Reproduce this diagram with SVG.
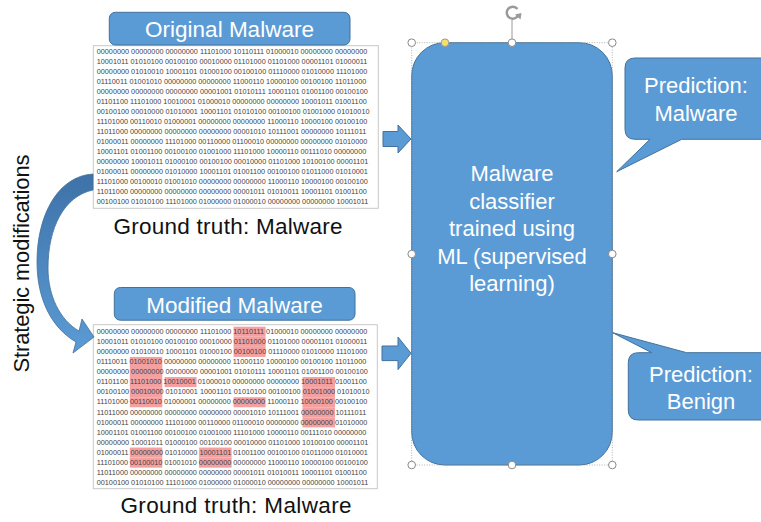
<svg xmlns="http://www.w3.org/2000/svg" width="761" height="522" viewBox="0 0 761 522">
<defs>
<style>
.blue{fill:#5b9bd5;stroke:#41719c;stroke-width:1}
.wt{fill:#ffffff;font-family:"Liberation Sans",Arial,sans-serif}
.lbl{fill:#111111;font-family:"Liberation Sans",Arial,sans-serif}
.bin{fill:#444444;font-family:"Liberation Sans",Arial,sans-serif;font-size:7.29px}
.blk{fill:#ffffff;stroke:#c9c9c9;stroke-width:1}
.hl{fill:#f4a0a0}
.hd{fill:#ffffff;stroke:#8a8a8a;stroke-width:1}
</style>
<linearGradient id="cg" x1="0" y1="0" x2="0" y2="1">
<stop offset="0" stop-color="#3e72a8"/>
<stop offset="1" stop-color="#5b9bd5"/>
</linearGradient>
</defs>
<rect width="761" height="522" fill="#ffffff"/>

<g id="node-original">
<rect class="blk" x="93.3" y="45.7" width="285" height="162.6"/>
<g class="bin">
<text x="96.7" y="54">00000000 00000000 00000000 11101000 10110111 01000010 00000000 00000000</text>
<text x="96.7" y="64">10001011 01010100 00100100 00010000 01101000 01101000 00001101 01000011</text>
<text x="96.7" y="74">00000000 01010010 10001101 01000100 00100100 01110000 01010000 11101000</text>
<text x="96.7" y="84">01110011 01001010 00000000 00000000 11000110 10000100 00100100 11011000</text>
<text x="96.7" y="94">00000000 00000000 00000000 00001001 01010111 10001101 01001100 00100100</text>
<text x="96.7" y="104">01101100 11101000 10010001 01000010 00000000 00000000 10001011 01001100</text>
<text x="96.7" y="114">00100100 00010000 01010001 10001101 01010100 00100100 01001000 01010010</text>
<text x="96.7" y="124">11101000 00110010 01000001 00000000 00000000 11000110 10000100 00100100</text>
<text x="96.7" y="134">11011000 00000000 00000000 00000000 00001010 10111001 00000000 10111011</text>
<text x="96.7" y="144">01000011 00000000 11101000 00110000 01100010 00000000 00000000 01010000</text>
<text x="96.7" y="154">10001101 01001100 00100100 01001000 11101000 10000110 00111010 00000000</text>
<text x="96.7" y="164">00000000 10001011 01000100 00100100 00010000 01101000 10100100 00001101</text>
<text x="96.7" y="174">01000011 00000000 01010000 10001101 01001100 00100100 01011000 01010001</text>
<text x="96.7" y="184">11101000 00100010 01001010 00000000 00000000 11000110 10000100 00100100</text>
<text x="96.7" y="194">11011000 00000000 00000000 00000000 00001011 01010011 10001101 01001100</text>
<text x="96.7" y="204">00100100 01010100 11101000 01000000 01000010 00000000 00000000 10001011</text>
</g>
<rect class="blue" x="109.3" y="12.3" width="240.7" height="32.7" rx="6"/>
<text class="wt" x="229.5" y="37.3" font-size="22.5" text-anchor="middle">Original Malware</text>
<text class="lbl" x="228" y="234" font-size="22.5" text-anchor="middle" textLength="229">Ground truth: Malware</text>
</g>

<g id="node-modified">
<rect class="blk" x="93.3" y="324.7" width="284" height="164"/>
<g class="hl">
<rect x="233.6" y="326.7" width="32" height="10.07"/>
<rect x="233.6" y="336.77" width="32" height="10.07"/>
<rect x="233.6" y="346.84" width="32" height="10.07"/>
<rect x="129.8" y="356.91" width="32.5" height="10.07"/>
<rect x="129.8" y="366.98" width="32.5" height="10.07"/>
<rect x="129.8" y="377.05" width="32.5" height="10.07"/>
<rect x="164.6" y="377.05" width="32" height="10.07"/>
<rect x="302.5" y="377.05" width="32.5" height="10.07"/>
<rect x="129.8" y="387.12" width="32.5" height="10.07"/>
<rect x="302.5" y="387.12" width="32.5" height="10.07"/>
<rect x="129.8" y="397.19" width="32.5" height="10.07"/>
<rect x="233.6" y="397.19" width="32" height="10.07"/>
<rect x="302.5" y="397.19" width="32.5" height="10.07"/>
<rect x="302.5" y="407.26" width="32.5" height="10.07"/>
<rect x="302.5" y="417.33" width="32.5" height="10.07"/>
<rect x="129.8" y="447.54" width="32.5" height="10.07"/>
<rect x="199.1" y="447.54" width="32.5" height="10.07"/>
<rect x="129.8" y="457.61" width="32.5" height="10.07"/>
<rect x="199.1" y="457.61" width="32.5" height="10.07"/>
</g>
<g class="bin">
<text x="96.7" y="334">00000000 00000000 00000000 11101000 10110111 01000010 00000000 00000000</text>
<text x="96.7" y="344.07">10001011 01010100 00100100 00010000 01101000 01101000 00001101 01000011</text>
<text x="96.7" y="354.14">00000000 01010010 10001101 01000100 00100100 01110000 01010000 11101000</text>
<text x="96.7" y="364.21">01110011 01001010 00000000 00000000 11000110 10000100 00100100 11011000</text>
<text x="96.7" y="374.28">00000000 00000000 00000000 00001001 01010111 10001101 01001100 00100100</text>
<text x="96.7" y="384.35">01101100 11101000 10010001 01000010 00000000 00000000 10001011 01001100</text>
<text x="96.7" y="394.42">00100100 00010000 01010001 10001101 01010100 00100100 01001000 01010010</text>
<text x="96.7" y="404.49">11101000 00110010 01000001 00000000 00000000 11000110 10000100 00100100</text>
<text x="96.7" y="414.56">11011000 00000000 00000000 00000000 00001010 10111001 00000000 10111011</text>
<text x="96.7" y="424.63">01000011 00000000 11101000 00110000 01100010 00000000 00000000 01010000</text>
<text x="96.7" y="434.7">10001101 01001100 00100100 01001000 11101000 10000110 00111010 00000000</text>
<text x="96.7" y="444.77">00000000 10001011 01000100 00100100 00010000 01101000 10100100 00001101</text>
<text x="96.7" y="454.84">01000011 00000000 01010000 10001101 01001100 00100100 01011000 01010001</text>
<text x="96.7" y="464.91">11101000 00100010 01001010 00000000 00000000 11000110 10000100 00100100</text>
<text x="96.7" y="474.98">11011000 00000000 00000000 00000000 00001011 01010011 10001101 01001100</text>
<text x="96.7" y="485.05">00100100 01010100 11101000 01000000 01000010 00000000 00000000 10001011</text>
</g>
<rect class="blue" x="114.3" y="287.5" width="240.7" height="32.7" rx="6"/>
<text class="wt" x="234.5" y="312.5" font-size="22.5" text-anchor="middle">Modified Malware</text>
<text class="lbl" x="236" y="513" font-size="22.5" text-anchor="middle" textLength="231">Ground truth: Malware</text>
</g>

<g id="node-classifier">
<rect class="blue" x="411.7" y="42.7" width="200.6" height="422.3" rx="33"/>
<g class="wt" font-size="22" text-anchor="middle">
<text x="512" y="181">Malware</text>
<text x="512" y="208.5">classifier</text>
<text x="512" y="236">trained using</text>
<text x="512" y="263.5">ML (supervised</text>
<text x="512" y="291">learning)</text>
</g>
<g id="selection">
<rect x="411.7" y="42.7" width="200.6" height="422.3" fill="none" stroke="#a0a0a0" stroke-width="0.8" stroke-dasharray="1,1.5"/>
<line x1="512" y1="20" x2="512" y2="39" stroke="#9a9a9a" stroke-width="1"/>
<path d="M 517.5 9 A 6 6 0 1 0 518.3 15" fill="none" stroke="#9a9a9a" stroke-width="2.4"/>
<path d="M 515 14.5 L 521.5 13 L 520.5 19.5 Z" fill="#9a9a9a"/>
<circle class="hd" cx="411.7" cy="42.7" r="3.8"/>
<circle class="hd" cx="512" cy="42.7" r="3.8"/>
<circle class="hd" cx="612.3" cy="42.7" r="3.8"/>
<circle class="hd" cx="411.7" cy="254" r="3.8"/>
<circle class="hd" cx="612.3" cy="254" r="3.8"/>
<circle class="hd" cx="411.7" cy="465" r="3.8"/>
<circle class="hd" cx="512" cy="465" r="3.8"/>
<circle class="hd" cx="612.3" cy="465" r="3.8"/>
<circle cx="445" cy="42.7" r="3.8" fill="#f6df6a" stroke="#9a9a9a" stroke-width="1"/>
</g>
</g>

<g id="node-pred-malware">
<path class="blue" d="M 635 58 H 775 V 139.3 H 681.7 L 616.7 171.7 L 650 139.3 H 635 Q 625 139.3 625 129.3 V 68 Q 625 58 635 58 Z"/>
<g class="wt" font-size="22" text-anchor="middle">
<text x="696" y="93.3">Prediction:</text>
<text x="696" y="120.7">Malware</text>
</g>
</g>

<g id="node-pred-benign">
<path class="blue" d="M 638.3 352.7 H 651.7 L 612.7 332.7 L 686.7 352.7 H 775 V 420 H 638.3 Q 628.3 420 628.3 410 V 362.7 Q 628.3 352.7 638.3 352.7 Z"/>
<g class="wt" font-size="22" text-anchor="middle">
<text x="701" y="382">Prediction:</text>
<text x="701" y="409">Benign</text>
</g>
</g>

<g id="connectors">
<path class="blue" d="M 383 131.5 H 398 V 125 L 411 139 L 398 153 V 146.5 H 383 Z"/>
<path class="blue" d="M 382 346 H 398 V 337 L 411 353.3 L 398 369.6 V 360.6 H 382 Z"/>
<path d="M 93 174 C 58 176 37 215 37 262 C 37 300 52 328 76 342 L 73 353 L 94 337 L 82 319 L 79 331 C 60 320 48 296 48 268 C 48 228 64 196 93 190 Z" fill="url(#cg)" stroke="#41719c" stroke-width="0.8"/>
</g>

<text class="lbl" transform="translate(29,263.5) rotate(-90)" font-size="22" text-anchor="middle" textLength="218">Strategic modifications</text>
</svg>
